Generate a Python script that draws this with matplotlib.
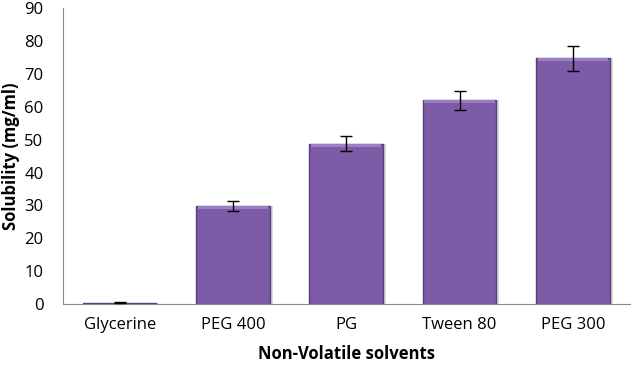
import matplotlib.pyplot as plt
import numpy as np

categories = ['Glycerine', 'PEG 400', 'PG', 'Tween 80', 'PEG 300']
solubility = [0.5, 29.8, 48.8, 62.0, 74.8]
errors = [0.1, 1.5, 2.4, 2.9, 3.8]

plt.rcParams['font.family'] = ['Open Sans', 'DejaVu Sans']

fig = plt.figure(figsize=(6.33, 3.66), dpi=100)
ax = fig.add_axes([0.0995, 0.169, 0.895, 0.809])

x = np.arange(len(categories))
# shadow behind the bars
ax.bar(x + 0.02, solubility, width=0.66, color='#d9d9d9', zorder=1)
bars = ax.bar(x, solubility, width=0.65, color='#7d5ba6', edgecolor='#56407a',
              linewidth=1.0, zorder=2)
# light bevel along the top of each bar
for xi, v in zip(x, solubility):
    if v > 2:
        ax.bar(xi, 0.9, bottom=v - 0.9, width=0.62, color='#9b7fc4', zorder=3)

ax.errorbar(x, solubility, yerr=errors, fmt='none', ecolor='black',
            elinewidth=1.0, capsize=4, capthick=1.0, zorder=4)

ax.set_xlim(-0.5, len(categories) - 0.5)
ax.set_ylim(0, 90)
ax.set_yticks(range(0, 91, 10))
ax.set_xticks(x)
ax.set_xticklabels(categories)
ax.tick_params(axis='both', length=0, labelsize=12, colors='black')
ax.tick_params(axis='y', pad=14)
ax.tick_params(axis='x', pad=9)

for side in ['top', 'right']:
    ax.spines[side].set_visible(False)
for side in ['left', 'bottom']:
    ax.spines[side].set_color('#8c8c8c')

ax.set_ylabel('Solubility (mg/ml)', fontsize=12, fontweight='bold', labelpad=3)
ax.set_xlabel('Non-Volatile solvents', fontsize=12, fontweight='bold', labelpad=9)

plt.savefig('out.png', dpi=100)
